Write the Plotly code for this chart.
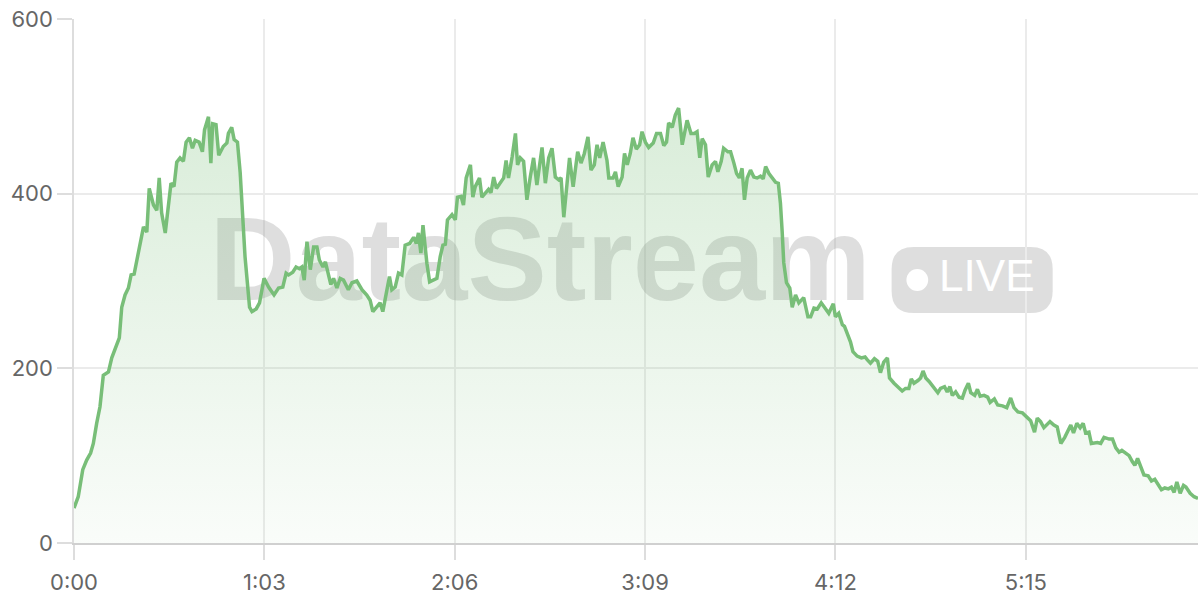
import plotly.graph_objects as go

t_sec = [
    0.0, 1.4, 2.9, 4.2, 5.5, 6.4, 7.5, 8.6, 9.7, 11.4, 12.5, 13.6, 15.0, 15.8, 16.9, 18.0,
    18.9, 19.9, 21.0, 22.1, 23.0, 24.1, 24.9, 26.3, 27.4, 28.2, 29.0, 30.2, 31.2, 32.1, 33.1,
    34.0, 35.1, 36.2, 37.1, 38.2, 39.2, 40.1, 41.4, 42.5, 43.2, 44.5, 45.3, 45.9, 47.0, 47.9,
    49.4, 50.6, 51.1, 52.2, 53.0, 54.1, 55.0, 55.9, 56.6, 58.1, 58.9, 60.3, 61.4, 62.9, 64.4,
    66.2, 67.7, 69.1, 70.2, 71.0, 72.4, 73.5, 74.6, 75.4, 76.2, 77.1, 78.2, 79.3, 80.4, 81.2,
    82.4, 83.2, 84.2, 85.0, 85.9, 87.0, 88.1, 89.2, 90.8, 92.0, 93.6, 95.3, 96.9, 98.0, 98.9,
    100.3, 101.3, 102.2, 103.6, 104.4, 105.2, 106.3, 107.4, 108.5, 109.6, 111.1, 112.4, 113.3,
    114.0, 114.8, 115.5, 116.3, 116.8, 117.7, 119.0, 120.1, 121.2, 122.1, 122.9, 123.6, 125.1,
    126.2, 126.9, 128.1, 128.9, 129.8, 131.2, 132.0, 132.8, 134.2, 135.0, 136.1, 137.2, 138.0,
    138.9, 139.8, 140.9, 142.2, 143.0, 143.8, 145.0, 146.1, 146.8, 147.7, 148.8, 149.9, 151.0,
    152.1, 153.2, 154.9, 156.0, 157.1, 158.2, 159.3, 160.4, 161.2, 162.1, 163.2, 164.0, 165.2,
    166.7, 167.8, 168.9, 170.1, 171.1, 172.2, 173.1, 174.0, 175.1, 176.4, 177.0, 178.4, 179.2,
    180.1, 181.4, 182.2, 183.1, 184.1, 185.0, 186.1, 187.2, 188.0, 189.1, 190.2, 191.7, 192.8,
    194.1, 195.2, 196.1, 196.8, 198.0, 199.0, 200.1, 201.3, 202.9, 204.2, 205.3, 206.2, 207.1,
    207.9, 209.0, 209.9, 211.2, 212.3, 213.1, 214.2, 215.0, 216.4, 217.3, 218.4, 219.3, 220.2,
    221.1, 221.9, 222.8, 223.9, 225.0, 226.1, 227.2, 228.1, 228.9, 230.0, 231.1, 232.2, 233.1,
    233.8, 234.4, 234.9, 235.8, 236.9, 237.7, 238.8, 239.9, 241.5, 242.9, 243.8, 244.9, 246.0,
    247.3, 248.4, 249.8, 251.3, 252.0, 253.1, 254.3, 255.0, 256.1, 257.0, 257.8, 259.2, 260.6,
    261.8, 262.5, 263.6, 264.9, 266.0, 266.9, 268.0, 269.2, 269.9, 271.4, 272.7, 274.1, 275.2,
    276.3, 277.1, 278.0, 279.3, 280.2, 281.0, 281.9, 283.0, 284.1, 285.2, 285.9, 286.8, 288.1,
    289.0, 289.9, 290.7, 291.8, 292.9, 294.0, 294.9, 296.0, 296.8, 298.1, 299.0, 299.9, 301.2,
    302.4, 303.2, 304.6, 305.7, 307.3, 308.7, 310.0, 311.1, 312.4, 313.9, 315.3, 316.6, 317.9,
    318.8, 319.9, 321.0, 323.0, 324.3, 325.4, 326.6, 327.9, 329.9, 330.8, 331.9, 333.0, 334.0,
    334.8, 335.9, 336.7, 338.7, 339.8, 340.9, 342.6, 343.7, 344.8, 345.9, 346.8, 348.1, 349.2,
    350.3, 351.1, 352.0, 353.1, 354.1, 355.5, 356.6, 357.7, 358.6, 359.9, 361.0, 362.2, 363.2,
    364.1, 365.0, 366.1, 367.2, 368.0, 369.4, 370.7, 372.0,
]
values = [
    40, 53, 84, 95, 103, 114, 137, 156, 192, 196, 212, 221, 235, 270, 284, 292,
    307, 308, 328, 343, 362, 356, 406, 387, 381, 418, 378, 355, 385, 412, 408,
    436, 441, 437, 459, 464, 452, 461, 459, 448, 473, 488, 435, 480, 479, 444,
    454, 458, 469, 476, 462, 459, 424, 370, 328, 270, 265, 268, 275, 303, 293,
    284, 292, 293, 309, 307, 310, 316, 314, 316, 301, 345, 313, 339, 339, 324,
    316, 322, 305, 296, 303, 292, 303, 301, 290, 298, 300, 290, 284, 278, 265,
    270, 275, 265, 290, 305, 290, 293, 309, 307, 341, 343, 350, 343,
    355, 332, 364, 336, 320, 299, 301, 303, 328, 341, 342, 370, 376,
    370, 396, 397, 387, 418, 433, 396, 408, 418, 396, 401, 405, 401,
    419, 406, 412, 418, 438, 418, 442, 469, 433, 441, 437, 393, 419,
    441, 410, 453, 412, 441, 452, 419, 416, 418, 373, 408, 441, 408,
    448, 435, 446, 465, 427, 433, 456, 441, 459, 438, 418, 418, 425,
    408, 419, 446, 433, 446, 464, 451, 456, 471, 459, 453, 458, 469,
    469, 455, 459, 481, 476, 490, 498, 456, 484, 469, 469, 471, 441,
    463, 456, 419, 433, 437, 425, 437, 452, 448, 448, 435, 423, 418,
    429, 393, 418, 427, 419, 418, 420, 417, 431, 423, 418, 413, 412,
    389, 355, 321, 298, 292, 270, 284, 275, 281, 259, 259, 269, 268,
    275, 269, 263, 274, 259, 263, 250, 248, 238, 230, 219, 214, 212,
    213, 210, 206, 211, 208, 195, 207, 212, 189, 183, 179, 174, 177,
    177, 188, 183, 186, 189, 197, 189, 185, 180, 175, 172, 177, 179,
    173, 179, 169, 173, 167, 166, 175, 183, 172, 169, 176, 168, 169,
    167, 161, 165, 158, 157, 155, 166, 155, 150, 149, 145, 140, 127,
    143, 139, 132, 139, 135, 133, 114, 121, 135, 126, 137, 132, 137,
    126, 127, 114, 115, 114, 121, 119, 119, 109, 104, 106, 103, 100,
    93, 89, 97, 87, 78, 77, 71, 73, 68, 61, 63, 62, 64,
    58, 70, 57, 66, 64, 57, 53, 51,
]

x_tick_vals = [0, 63, 126, 189, 252, 315]
x_tick_text = ["0:00", "1:03", "2:06", "3:09", "4:12", "5:15"]
y_tick_vals = [0, 200, 400, 600]

GREEN = "#78be78"
WATERMARK = "rgba(150,150,150,0.31)"
TICK_FONT = dict(family="Inter, Liberation Sans, sans-serif", size=22, color="#666666")

fig = go.Figure()

# watermark first so the area fill and line sit on top of it
fig.add_trace(go.Scatter(
    x=[154.3], y=[312.6],
    mode="text",
    text=["DataStream"],
    textposition="middle center",
    textfont=dict(family="Liberation Sans, Arial, sans-serif", size=119,
                  color=WATERMARK, weight="bold"),
    hoverinfo="skip",
    showlegend=False,
))
fig.add_trace(go.Scatter(
    x=[302.1], y=[301.2],
    mode="text",
    text=["LIVE"],
    textposition="middle center",
    textfont=dict(family="Liberation Sans, Arial, sans-serif", size=44, color="white"),
    hoverinfo="skip",
    showlegend=False,
))

fig.add_trace(go.Scatter(
    x=t_sec,
    y=values,
    mode="lines",
    line=dict(color=GREEN, width=3.5),
    fill="tozeroy",
    fillgradient=dict(
        type="vertical",
        start=0,
        stop=500,
        colorscale=[[0, "rgba(120,190,120,0.04)"], [1, "rgba(120,190,120,0.28)"]],
    ),
    hoverinfo="skip",
    showlegend=False,
))

# rounded "LIVE" pill and its dot (below the traces)
x0, x1, y0, y1 = 270.6, 323.9, 263.4, 338.9
rx, ry = 7.3, 25.2
pill = (f"M {x0+rx},{y0} L {x1-rx},{y0} Q {x1},{y0} {x1},{y0+ry} "
        f"L {x1},{y1-ry} Q {x1},{y1} {x1-rx},{y1} L {x0+rx},{y1} "
        f"Q {x0},{y1} {x0},{y1-ry} L {x0},{y0+ry} Q {x0},{y0} {x0+rx},{y0} Z")
fig.add_shape(type="path", path=pill, xref="x", yref="y",
              fillcolor=WATERMARK, line=dict(width=0), layer="below")
fig.add_shape(type="circle", xref="x", yref="y",
              x0=275.5, x1=282.7, y0=288.6, y1=313.8,
              fillcolor="white", line=dict(width=0), layer="below")

fig.update_layout(
    width=1200,
    height=600,
    margin=dict(l=74, r=2, t=19, b=57),
    paper_bgcolor="white",
    plot_bgcolor="white",
    hovermode=False,
    showlegend=False,
)
fig.update_xaxes(
    range=[0, 372],
    tickvals=x_tick_vals,
    ticktext=x_tick_text,
    tickfont=TICK_FONT,
    ticks="outside",
    ticklen=15,
    tickwidth=1.5,
    tickcolor="#dddddd",
    ticklabelstandoff=4,
    showgrid=True,
    gridcolor="#ebebeb",
    gridwidth=1.5,
    showline=True,
    linecolor="#d0d0d0",
    linewidth=2,
    zeroline=False,
)
fig.update_yaxes(
    range=[0, 600],
    tickvals=y_tick_vals,
    tickfont=TICK_FONT,
    ticks="outside",
    ticklen=15,
    tickwidth=1.5,
    tickcolor="#dddddd",
    showgrid=True,
    gridcolor="#ebebeb",
    gridwidth=1.5,
    showline=True,
    linecolor="#dddddd",
    linewidth=1.5,
    zeroline=False,
)

fig.write_html("out.html", config={"displayModeBar": False},
               post_script="document.body.style.margin='0';")
